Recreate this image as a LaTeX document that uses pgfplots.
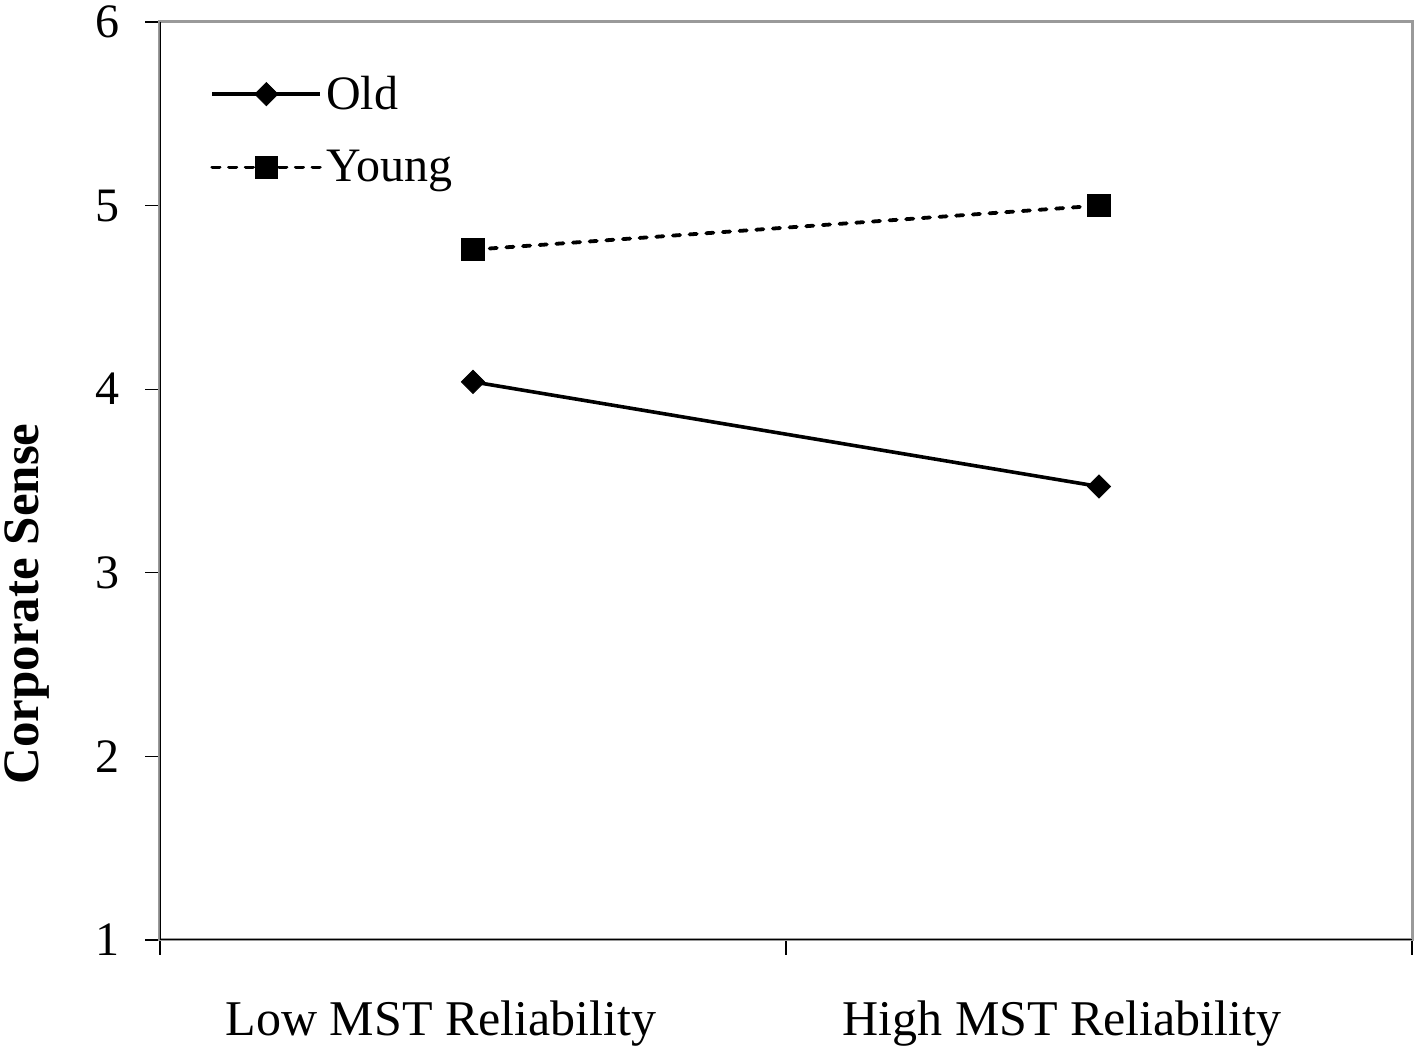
\documentclass[border=0pt]{standalone}
\usepackage{fontspec}
\setmainfont{Liberation Serif}
\usepackage{pgfplots}
\pgfplotsset{compat=1.18}
\definecolor{framegray}{HTML}{9A9A9A}
\begin{document}
\begin{tikzpicture}
\useasboundingbox (-80pt,-59.5pt) rectangle (632.5pt,470pt);
\begin{axis}[
  at={(0,0)}, anchor=south west,
  scale only axis, width=626pt, height=459pt,
  xmin=0, xmax=2, ymin=1, ymax=6,
  xtick={0,1,2}, xticklabels={,,},
  ytick={1,2,3,4,5,6},
  tick pos=left,
  tick align=outside,
  major tick length=7.5pt,
  tick style={black, line width=0.6pt},
  axis line style={draw=framegray, line width=1.5pt},
  /pgf/number format/assume math mode=true,
  yticklabel style={font=\fontsize{24}{28}\selectfont, anchor=east, xshift=-9pt},
  extra x ticks={0.449,1.441},
  extra x tick labels={Low MST Reliability, High MST Reliability},
  extra x tick style={major tick length=0pt, tick style={draw=none},
    xticklabel style={font=\fontsize{25}{30}\selectfont, anchor=base, yshift=-48pt}},
  ylabel={Corporate Sense},
  ylabel style={font=\bfseries\fontsize{25.5}{30}\selectfont, at={(axis description cs:-0.1062,0.366)}, anchor=center},
  legend style={draw=none, fill=none, at={(axis description cs:0.04,0.946)}, anchor=north west,
    font=\fontsize{24}{28}\selectfont, row sep=15pt, inner sep=0pt},
  legend cell align=left,
  legend image code/.code={\draw[mark repeat=2,mark phase=2,#1] plot coordinates {(0pt,0pt) (27pt,0pt) (54pt,0pt)};},
]
\addplot[black, line width=1.8pt, mark=square*, mark size=4.1pt, mark options={solid, rotate=45, line width=0.4pt}]
  coordinates {(0.5,4.04) (1.5,3.47)};
\addlegendentry{Old}
\addplot[black, line width=1.9pt, line cap=round, dash pattern=on 3.6pt off 4.75pt, mark=square*, mark size=5.6pt, mark options={solid, line width=0.4pt}]
  coordinates {(0.5,4.76) (1.5,5.00)};
\addlegendentry{Young}
\draw[black, line width=0.6pt] (rel axis cs:0,1) -- (rel axis cs:0,0) -- (rel axis cs:1,0);
\end{axis}
\end{tikzpicture}
\end{document}
